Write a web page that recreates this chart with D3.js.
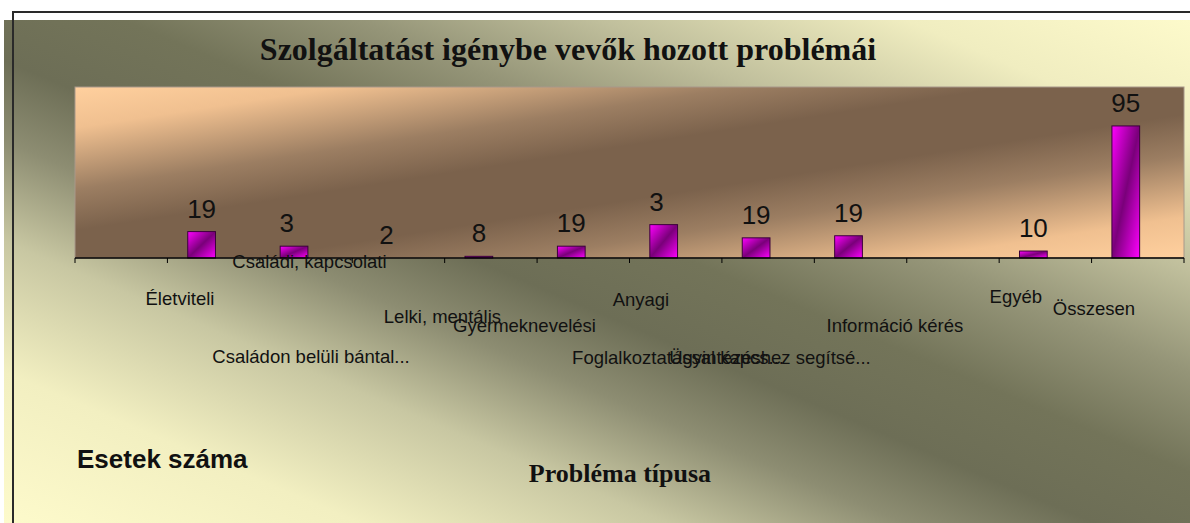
<!DOCTYPE html>
<html>
<head>
    <meta charset="utf-8">
    <title>Szolgáltatást igénybe vevők hozott problémái</title>
    <style>
        html, body {
            margin: 0;
            padding: 0;
            background: #fff;
        }

        svg {
            display: block;
        }

        .cat-label {
            font: 18.5px "Liberation Sans", Arial, sans-serif;
            fill: #111;
        }

        .value-label {
            font: 26px "Liberation Sans", Arial, sans-serif;
            fill: #111;
        }
    </style>
</head>
<body>
<script src="https://cdnjs.cloudflare.com/ajax/libs/d3/7.8.5/d3.min.js"></script>
<script>
    // Chart data
    const slots = d3.range(12);                 // 12 category slots on the axis
    const values = [0, 19, 8.5, 0, 1.2, 8.5, 24, 14.5, 16, 0, 5, 95];
    const valueLabels = [null, "19", "3\u00a0\u00a0", "2", "8", "19", "3\u00a0\u00a0", "19", "19", null, "10", "95"];
    const categories = [
        "Életviteli", "Családi, kapcsolati", "Családon belüli bántal...",
        "Lelki, mentális", "Gyermeknevelési", "Anyagi",
        "Foglalkoztatással kapcs...", "Ügyintézéshez segítsé...",
        "Információ kérés", "Egyéb", "Összesen"
    ];

    // Where Excel dropped each category label: [slot position, drop below axis]
    const labelLayout = [
        [1.136, 47], [2.537, 10], [2.554, 105],
        [3.976, 65], [4.864, 74], [6.124, 48],
        [6.525, 106], [7.52, 106],
        [8.872, 74], [10.18, 45], [11.026, 57]
    ];

    const width = 1190, height = 523;
    const plot = {left: 75, right: 1184, top: 87, bottom: 258};

    const svg = d3.select("body")
        .append("svg")
        .attr("width", width)
        .attr("height", height);

    const defs = svg.append("defs");

    // diagonal fills, like the Excel ones
    function diagGradient(id, x1, y1, x2, y2, stops) {
        const g = defs.append("linearGradient")
            .attr("id", id)
            .attr("x1", x1).attr("y1", y1)
            .attr("x2", x2).attr("y2", y2);
        stops.forEach(([o, c]) => {
            g.append("stop").attr("offset", o).attr("stop-color", c);
        });
    }

    diagGradient("bg", 0, 1, 1, 0, [
        [0, "#fdfacb"], [0.15, "#f2efc1"], [0.28, "#c8c7a2"], [0.38, "#8d8d72"],
        [0.46, "#6d6e56"], [0.55, "#737459"], [0.65, "#959578"], [0.75, "#c0bf9c"],
        [0.88, "#f0edc0"], [1, "#fdfacb"]
    ]);
    diagGradient("plotbg", 0, 0, 1, 1, [
        [0, "#ffd09e"], [0.12, "#f0c090"], [0.3, "#9c7e62"], [0.42, "#7b624c"],
        [0.58, "#7b624c"], [0.7, "#9c7e62"], [0.88, "#f0c090"], [1, "#ffd09e"]
    ]);
    diagGradient("bar", 0, 0, 1, 1, [
        [0, "#ff00ff"], [0.5, "#7a007a"], [1, "#ff00ff"]
    ]);

    // chart area fill (shifted off the frame, as in the original)
    svg.append("rect")
        .attr("x", 4)
        .attr("y", 20)
        .attr("width", width - 4)
        .attr("height", height - 20)
        .attr("fill", "url(#bg)");

    // frame
    svg.append("rect")
        .attr("x", 13)
        .attr("y", 12)
        .attr("width", width + 20)
        .attr("height", height + 20)
        .attr("fill", "none")
        .attr("stroke", "#2a2a2a")
        .attr("stroke-width", 2);

    // plot area
    svg.append("rect")
        .attr("x", plot.left)
        .attr("y", plot.top)
        .attr("width", plot.right - plot.left)
        .attr("height", plot.bottom - plot.top)
        .attr("fill", "url(#plotbg)")
        .attr("stroke", "#a8988a")
        .attr("stroke-width", 1);

    // Scales
    const x = d3.scaleBand()
        .domain(slots)
        .range([plot.left, plot.right]);

    const xPos = d3.scaleLinear()
        .domain([0, slots.length])
        .range([plot.left, plot.right]);

    const y = d3.scaleLinear()
        .domain([0, 123])
        .range([plot.bottom, plot.top]);

    const bw = x.bandwidth();
    const barOffset = bw * 0.22;
    const barWidth = bw * 0.3;

    // Bars
    svg.append("g")
        .selectAll("rect")
        .data(slots.filter(i => values[i] > 0))
        .join("rect")
        .attr("x", i => x(i) + barOffset)
        .attr("y", i => y(values[i]))
        .attr("width", barWidth)
        .attr("height", i => y(0) - y(values[i]))
        .attr("fill", "url(#bar)")
        .attr("stroke", "#3a003a")
        .attr("stroke-width", 1);

    // Value labels
    svg.append("g")
        .selectAll("text")
        .data(slots.filter(i => valueLabels[i] !== null))
        .join("text")
        .attr("class", "value-label")
        .attr("x", i => x(i) + barOffset + barWidth / 2)
        .attr("y", i => y(values[i]) - 14)
        .attr("text-anchor", "middle")
        .text(i => valueLabels[i]);

    // X axis, ticks between the categories
    const axis = svg.append("g")
        .attr("transform", `translate(0,${plot.bottom})`);

    axis.append("line")
        .attr("x1", plot.left)
        .attr("x2", plot.right)
        .attr("stroke", "#000")
        .attr("stroke-width", 1.5);

    axis.selectAll("line.tick")
        .data(d3.range(slots.length + 1))
        .join("line")
        .attr("class", "tick")
        .attr("x1", d => xPos(d))
        .attr("x2", d => xPos(d))
        .attr("y1", 0)
        .attr("y2", 5)
        .attr("stroke", "#000");

    // Category labels, scattered the way the original shows them
    axis.selectAll("text.cat-label")
        .data(categories)
        .join("text")
        .attr("class", "cat-label")
        .attr("x", (d, i) => xPos(labelLayout[i][0]))
        .attr("y", (d, i) => labelLayout[i][1])
        .attr("text-anchor", "middle")
        .text(d => d);

    // Titles
    svg.append("text")
        .attr("x", 568)
        .attr("y", 60)
        .attr("text-anchor", "middle")
        .style("font", "bold 32px 'Liberation Serif', 'Times New Roman', serif")
        .attr("fill", "#111")
        .text("Szolgáltatást igénybe vevők hozott problémái");

    svg.append("text")
        .attr("x", 620)
        .attr("y", 482)
        .attr("text-anchor", "middle")
        .style("font", "bold 26px 'Liberation Serif', 'Times New Roman', serif")
        .attr("fill", "#111")
        .text("Probléma típusa");

    svg.append("text")
        .attr("x", 77)
        .attr("y", 468)
        .style("font", "bold 26px 'Liberation Sans', Arial, sans-serif")
        .attr("fill", "#111")
        .text("Esetek száma");
</script>
</body>
</html>
